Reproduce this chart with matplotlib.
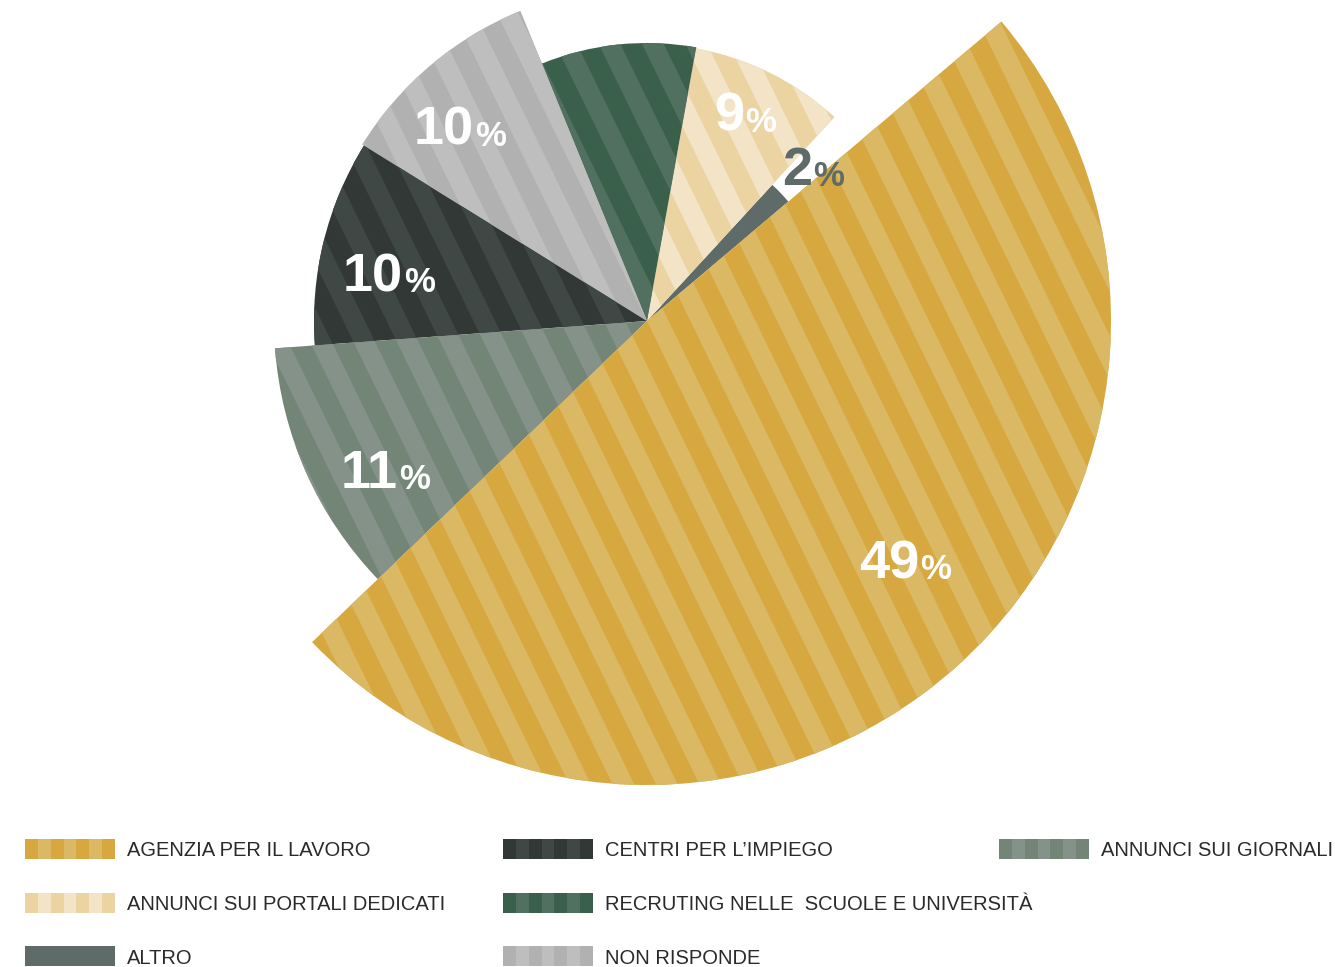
import numpy as np
import matplotlib
matplotlib.use("Agg")
import matplotlib.pyplot as plt
from matplotlib.patches import Wedge, Rectangle
from matplotlib.collections import PolyCollection

# dati
categories = ["AGENZIA PER IL LAVORO", "ANNUNCI SUI PORTALI DEDICATI", "ALTRO",
              "CENTRI PER L\u2019IMPIEGO", "RECRUTING NELLE  SCUOLE E UNIVERSIT\u00c0",
              "NON RISPONDE", "ANNUNCI SUI GIORNALI"]
values = [49, 9, 2, 10, 9, 10, 11]
labels = ["49", "9", "2", "10", None, "10", "11"]

# ordine antiorario degli spicchi, a partire da "ALTRO"
pie_order = [2, 1, 4, 5, 3, 6, 0]
start_angle = 40.2

# stile
outer_r = [464, 277, 185, 333, 278, 335, 373]
dark = ["#D6A83F", "#EBD3A2", "#5F6B69", "#313836", "#3A5F4A", "#B1B1B1", "#738577"]
light = ["#DBB863", "#F3E4C7", "#5F6B69", "#3F4845", "#52705F", "#BEBEBE", "#84928A"]
label_pos = [(316.7, 375), (62.7, 214), (39.3, 215), (173, 245), None, (134.3, 246), (214, 299)]
label_col = ["white", "white", "#5F6B69", "white", None, "white", "white"]

W, H = 1335, 967
cx, cy = 647, 321   # centro della torta in pixel

fig = plt.figure(figsize=(W / 100, H / 100), dpi=100)
ax = fig.add_axes([0, 0, 1, 1])
ax.set_xlim(-cx, W - cx)
ax.set_ylim(-(H - cy), cy)
ax.set_aspect("equal")
ax.axis("off")


def strisce(patch, color, R, period=39.0, ang=-64.0, zorder=2):
    d = np.array([np.cos(np.radians(ang)), np.sin(np.radians(ang))])
    n = np.array([-d[1], d[0]])
    L = R * 1.3
    polys = []
    for k in range(int(-R / period) - 2, int(R / period) + 2):
        s0, s1 = k * period, k * period + period / 2
        polys.append([n * s0 - d * L, n * s1 - d * L, n * s1 + d * L, n * s0 + d * L])
    pc = PolyCollection(polys, facecolors=color, edgecolors="none", zorder=zorder)
    ax.add_collection(pc)
    pc.set_clip_path(patch)


tot = sum(values)
theta = start_angle
for i in pie_order:
    span = values[i] / tot * 360
    w = Wedge((0, 0), outer_r[i], theta, theta + span, facecolor=dark[i],
              edgecolor="none", zorder=1)
    ax.add_patch(w)
    if light[i] != dark[i]:
        strisce(w, light[i], outer_r[i])
    theta += span

# etichette percentuali
for i, lab in enumerate(labels):
    if lab is None:
        continue
    a, r = label_pos[i]
    x, y = r * np.cos(np.radians(a)), r * np.sin(np.radians(a))
    ax.text(x - 1, y, lab, ha="right", va="baseline", color=label_col[i],
            fontsize=39, fontweight="bold", family="Liberation Sans", zorder=5)
    ax.text(x, y - 1, "%", ha="left", va="baseline", color=label_col[i],
            fontsize=25, fontweight="bold", family="Liberation Sans", zorder=5)

# legenda
leg_cols = [25, 503, 999]
leg_rows = [849, 903, 956]
box_w, box_h, nb = 90, 20, 7
for j, i in enumerate([0, 1, 2, 3, 4, 5, 6]):
    px = leg_cols[j // 3]
    py = leg_rows[j % 3]
    bw = box_w / nb
    for b in range(nb):
        c = dark[i] if b % 2 == 0 else light[i]
        ax.add_patch(Rectangle((px + b * bw - cx, cy - py - box_h / 2), bw, box_h,
                               facecolor=c, edgecolor="none"))
    ax.text(px + box_w + 12 - cx, cy - py - 2, categories[i], ha="left", va="center",
            fontsize=14.5, color="#2A2A2A", family="Liberation Sans")

fig.savefig("out.png", dpi=100)
